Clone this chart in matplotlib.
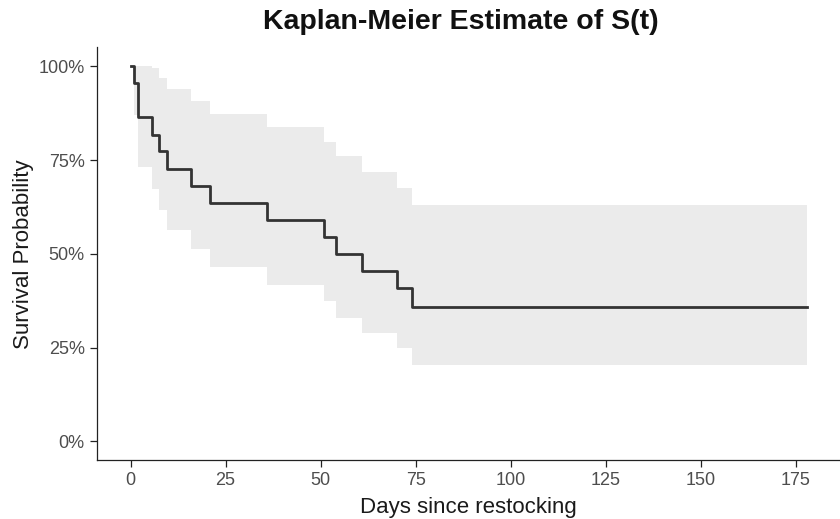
import numpy as np
import matplotlib
matplotlib.use("Agg")
import matplotlib.pyplot as plt
from matplotlib.ticker import FuncFormatter

plt.rcParams['font.family'] = ['Liberation Sans', 'DejaVu Sans']

# Kaplan-Meier estimate
time = [0, 1, 2, 5.5, 7.5, 9.5, 16, 21, 36, 51, 54, 61, 70, 74, 178]
surv = [1.0, 0.955, 0.864, 0.818, 0.773, 0.727, 0.682, 0.636, 0.591,
        0.545, 0.500, 0.455, 0.409, 0.358, 0.358]
upper = [1.0, 1.0, 1.0, 0.996, 0.969, 0.939, 0.907, 0.873, 0.837,
         0.799, 0.760, 0.719, 0.676, 0.631, 0.631]
lower = [1.0, 0.871, 0.732, 0.672, 0.616, 0.563, 0.513, 0.464, 0.417,
         0.373, 0.329, 0.288, 0.248, 0.203, 0.203]

x_ticks = [0, 25, 50, 75, 100, 125, 150, 175]
y_ticks = [0, 0.25, 0.5, 0.75, 1.0]

fig = plt.figure(figsize=(8.4, 5.19), dpi=100)
ax = fig.add_axes([0.115, 0.1135, 0.885, 0.795])

ax.fill_between(time, lower, upper, step='post', color='#ebebeb', linewidth=0)
ax.step(time, surv, where='post', color='#333333', linewidth=2.0)

ax.set_xlim(-8.95, 186.7)
ax.set_ylim(-0.05, 1.05)
ax.set_xticks(x_ticks)
ax.set_yticks(y_ticks)
ax.yaxis.set_major_formatter(FuncFormatter(lambda v, p: f"{v*100:.0f}%"))

for s in ['top', 'right']:
    ax.spines[s].set_visible(False)
for s in ['left', 'bottom']:
    ax.spines[s].set_color('#222222')
    ax.spines[s].set_linewidth(0.9)
ax.tick_params(axis='both', colors='#222222', length=5, width=0.9,
               labelsize=13, labelcolor='#4d4d4d', pad=3.5)

ax.set_xlabel("Days since restocking", fontsize=16, color='#1a1a1a', labelpad=6)
ax.set_ylabel("Survival Probability", fontsize=16, color='#1a1a1a', labelpad=3)
fig.text(0.549, 0.957, "Kaplan-Meier Estimate of S(t)", ha='center', va='center',
         fontsize=20.5, fontweight='bold', color='#111111')

fig.savefig("out.png", dpi=100, facecolor='white')
